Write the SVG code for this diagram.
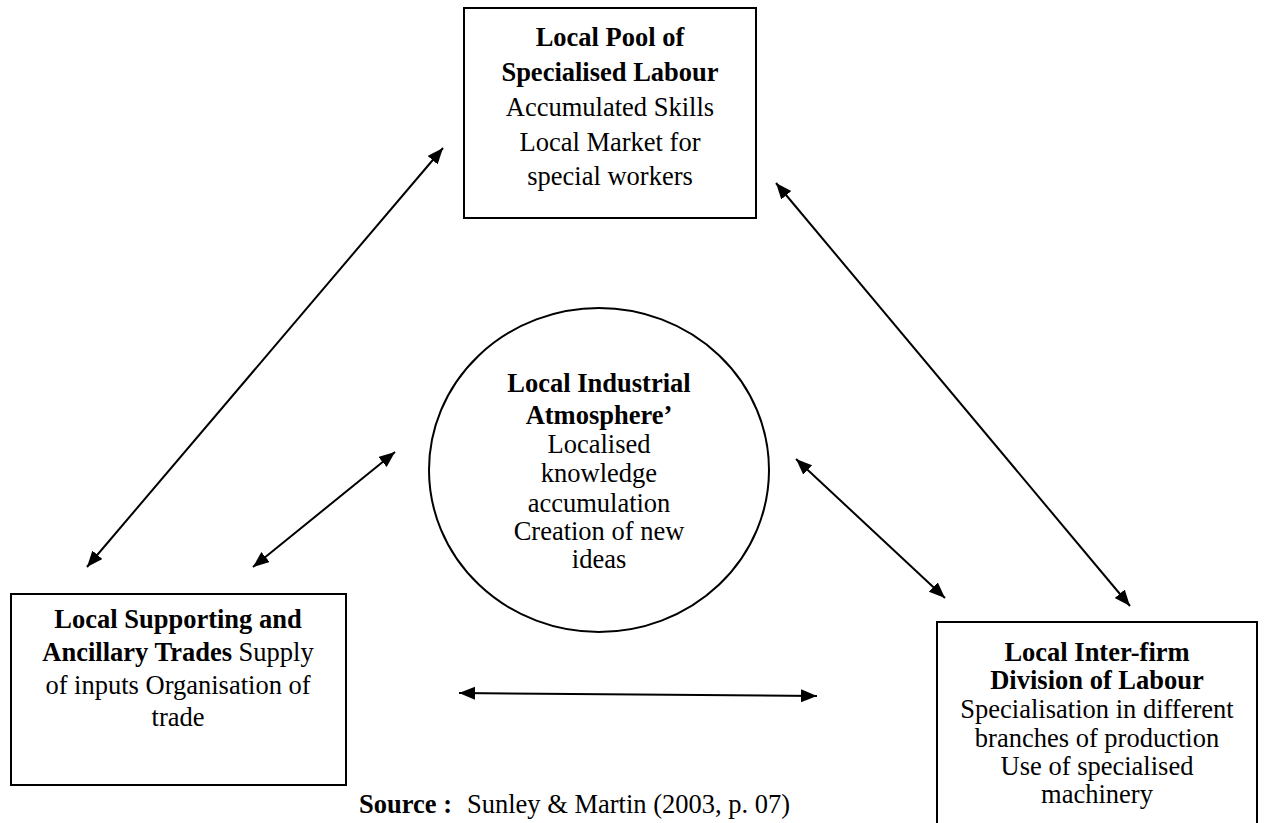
<svg xmlns="http://www.w3.org/2000/svg" width="1264" height="823" viewBox="0 0 1264 823">
<style>
.box{fill:#fff;stroke:#000;stroke-width:2}
.t{font-family:"Liberation Serif","Times New Roman",serif;font-size:26.5px;fill:#000;text-anchor:middle}
.b{font-weight:bold}
.c{stroke:#000;stroke-width:2;fill:none;marker-start:url(#ah);marker-end:url(#ah)}
</style>
<defs>
<marker id="ah" markerUnits="userSpaceOnUse" markerWidth="18" markerHeight="14" refX="16" refY="6.5" orient="auto-start-reverse" viewBox="0 0 18 14">
<path d="M0,0 L16,6.5 L0,13 z" fill="#000"/>
</marker>
</defs>
<rect width="1264" height="823" fill="#fff"/>
<g id="connectors">
<line class="c" x1="87" y1="567" x2="443" y2="148"/>
<line class="c" x1="253" y1="567" x2="395" y2="452"/>
<line class="c" x1="776" y1="183" x2="1130" y2="606"/>
<line class="c" x1="796" y1="459" x2="945" y2="598"/>
<line class="c" x1="459" y1="693" x2="817" y2="696"/>
</g>
<g id="node-labour-pool">
<rect class="box" x="464" y="8" width="292" height="210"/>
<text class="t b" x="610" y="46">Local Pool of</text>
<text class="t b" x="610" y="81">Specialised Labour</text>
<text class="t" x="610" y="116">Accumulated Skills</text>
<text class="t" x="610" y="151">Local Market for</text>
<text class="t" x="610" y="185">special workers</text>
</g>
<g id="node-atmosphere">
<ellipse class="box" cx="599" cy="470" rx="170" ry="162"/>
<text class="t b" x="599" y="392">Local Industrial</text>
<text class="t b" x="599" y="424">Atmosphere’</text>
<text class="t" x="599" y="453">Localised</text>
<text class="t" x="599" y="482">knowledge</text>
<text class="t" x="599" y="512">accumulation</text>
<text class="t" x="599" y="540">Creation of new</text>
<text class="t" x="599" y="568">ideas</text>
</g>
<g id="node-supporting-trades">
<rect class="box" x="11" y="594" width="335" height="191"/>
<text class="t b" x="178" y="628">Local Supporting and</text>
<text class="t" x="178" y="661"><tspan class="b">Ancillary Trades</tspan> Supply</text>
<text class="t" x="178" y="694">of inputs Organisation of</text>
<text class="t" x="178" y="726">trade</text>
</g>
<g id="node-division-labour">
<rect class="box" x="937" y="622" width="320" height="230"/>
<text class="t b" x="1097" y="661">Local Inter-firm</text>
<text class="t b" x="1097" y="689">Division of Labour</text>
<text class="t" x="1097" y="718">Specialisation in different</text>
<text class="t" x="1097" y="747">branches of production</text>
<text class="t" x="1097" y="775">Use of specialised</text>
<text class="t" x="1097" y="803">machinery</text>
</g>
<g id="source">
<text class="t b" x="359" y="813" style="text-anchor:start">Source :</text>
<text class="t" x="467" y="813" style="text-anchor:start">Sunley &amp; Martin (2003, p. 07)</text>
</g>
</svg>
